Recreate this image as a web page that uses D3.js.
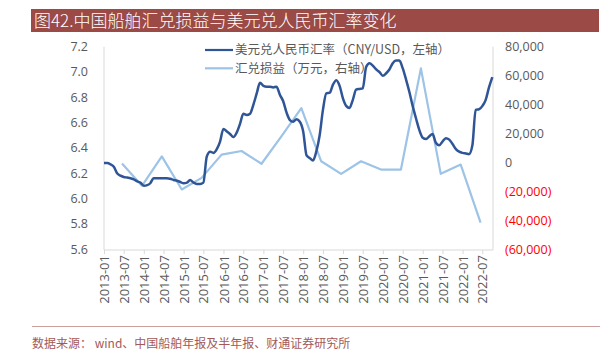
<!DOCTYPE html>
<html><head><meta charset="utf-8">
<script src="https://cdn.jsdelivr.net/npm/d3@7"></script>
<style>
body{margin:0;background:#fff;}
svg{display:block;}
text{font-family:"Open Sans","Noto Sans CJK SC",sans-serif;}
</style></head>
<body>
<svg id="chart" width="609" height="357"></svg>
<script>
// ---- data ----
const titleText = "图42.中国船舶汇兑损益与美元兑人民币汇率变化";
const sourceText = "数据来源：  wind、中国船舶年报及半年报、财通证券研究所";
const legendRate = "美元兑人民币汇率（CNY/USD，左轴）";
const legendGain = "汇兑损益（万元，右轴）";

const rateStart = "2013-01";
// monthly USD/CNY, 2013-01 .. 2022-10
const rateValues = [
  6.28,6.28,6.27,6.25,6.20,6.18,6.17,6.165,6.16,6.15,6.135,6.125,
  6.10,6.105,6.12,6.16,6.16,6.16,6.16,6.16,6.155,6.146,6.14,6.13,
  6.12,6.125,6.145,6.125,6.115,6.115,6.125,6.33,6.37,6.36,6.39,6.45,
  6.55,6.53,6.51,6.485,6.52,6.59,6.67,6.66,6.67,6.74,6.83,6.915,
  6.89,6.884,6.884,6.878,6.884,6.82,6.77,6.68,6.62,6.607,6.626,6.607,
  6.53,6.34,6.32,6.30,6.37,6.50,6.70,6.83,6.836,6.90,6.935,6.89,
  6.79,6.73,6.715,6.78,6.86,6.866,6.87,7.04,7.07,7.05,7.02,7.00,
  6.97,6.99,7.02,7.07,7.09,7.09,7.03,6.94,6.84,6.73,6.63,6.54,
  6.48,6.47,6.49,6.51,6.44,6.42,6.45,6.476,6.465,6.43,6.39,6.37,
  6.36,6.355,6.35,6.42,6.70,6.705,6.73,6.78,6.88,6.96
];

const gainDates = ["2013-06-15","2013-12-15","2014-06-15","2014-12-15","2015-06-15","2015-12-15",
  "2016-06-15","2016-12-15","2017-06-15","2017-12-15","2018-06-15","2018-12-15",
  "2019-06-15","2019-12-15","2020-06-15","2020-12-15","2021-06-15","2021-12-15","2022-06-15"];
const gainValues = [-900,-16300,4100,-18800,-10800,5300,7800,-1000,18000,37500,
  700,-8000,700,-5000,-5000,65000,-8000,-1600,-41800];

const xTickLabels = ["2013-01","2013-07","2014-01","2014-07","2015-01","2015-07","2016-01","2016-07",
  "2017-01","2017-07","2018-01","2018-07","2019-01","2019-07","2020-01","2020-07","2021-01","2021-07",
  "2022-01","2022-07"];
const leftTicks = [5.6,5.8,6.0,6.2,6.4,6.6,6.8,7.0,7.2];
const rightTicks = [-60000,-40000,-20000,0,20000,40000,60000,80000];

// ---- drawing ----
const svg = d3.select("#chart");
const pm = d3.timeParse("%Y-%m"), pd = d3.timeParse("%Y-%m-%d");
const rateDates = d3.timeMonth.range(pm(rateStart), d3.timeMonth.offset(pm(rateStart), rateValues.length));
const rateData = rateValues.map((v,i)=>({d:rateDates[i], v}));
const gainData = gainValues.map((v,i)=>({d:pd(gainDates[i]), v}));

const L=104, R=493, T=46.7, B=249;
const x = d3.scaleTime().domain([pm("2013-01"), pd("2022-10-07")]).range([L,R]);
const yL = d3.scaleLinear().domain([5.6,7.2]).range([B,T]);
const yR = d3.scaleLinear().domain([-60000,80000]).range([B,T]);

// title bar
svg.append("rect").attr("x",31).attr("y",9).attr("width",568).attr("height",23).attr("fill","#9B4A46");
svg.append("text").attr("x",34).attr("y",26.5).attr("fill","#fff").attr("font-size",17)
  .style("font-family","'Noto Sans CJK SC',sans-serif").style("font-weight",300).text(titleText);

// axes lines
const axisCol="#D9D9D9";
svg.append("line").attr("x1",L).attr("x2",L).attr("y1",T).attr("y2",B+1).attr("stroke",axisCol);
svg.append("line").attr("x1",R).attr("x2",R).attr("y1",T).attr("y2",B+1).attr("stroke",axisCol);

const xAxis = d3.axisBottom(x).tickValues(xTickLabels.map(pm)).tickFormat(d3.timeFormat("%Y-%m")).tickSizeOuter(0).tickSize(4);
const gx = svg.append("g").attr("transform",`translate(0,${B+1})`).call(xAxis);
gx.select(".domain").attr("stroke",axisCol).attr("d",`M${L},0H${R}`);
gx.selectAll(".tick line").attr("stroke",axisCol);
gx.selectAll(".tick text").attr("fill","#595959").attr("font-size",13)
  .attr("transform","rotate(-90)").attr("text-anchor","end").attr("x",-5).attr("y",0).attr("dy","0.35em");

const gl = svg.append("g").attr("transform",`translate(${L},0)`)
  .call(d3.axisLeft(yL).tickValues(leftTicks).tickFormat(d3.format(".1f")).tickSize(0).tickPadding(16));
gl.select(".domain").remove();
gl.selectAll("text").attr("fill","#595959").attr("font-size",12.5);

const gr = svg.append("g").attr("transform",`translate(${R},0)`)
  .call(d3.axisRight(yR).tickValues(rightTicks).tickSize(0).tickPadding(12)
    .tickFormat(v=> v<0 ? "("+d3.format(",")(-v)+")" : d3.format(",")(v)));
gr.select(".domain").remove();
gr.selectAll("text").attr("font-size",12.5).attr("fill",v=> v<0 ? "#FF0000" : "#595959");

// lines
svg.append("path").datum(gainData).attr("fill","none").attr("stroke","#9DC3E6").attr("stroke-width",2.2)
  .attr("stroke-linejoin","round")
  .attr("d",d3.line().x(d=>x(d.d)).y(d=>yR(d.v)));
svg.append("path").datum(rateData).attr("fill","none").attr("stroke","#2F5597").attr("stroke-width",2.5)
  .attr("stroke-linejoin","round")
  .attr("d",d3.line().curve(d3.curveMonotoneX).x(d=>x(d.d)).y(d=>yL(d.v)));

// legend
const lg = svg.append("g");
[[legendRate,"#2F5597",50],[legendGain,"#9DC3E6",68.3]].forEach(([t,c,yy])=>{
  lg.append("line").attr("x1",205).attr("x2",233).attr("y1",yy).attr("y2",yy).attr("stroke",c).attr("stroke-width",2.2);
  lg.append("text").attr("x",235).attr("y",yy).attr("dy","0.35em").attr("font-size",12.5).attr("fill","#595959")
    .style("font-family","'Noto Sans CJK SC',sans-serif").text(t);
});

// source
svg.append("line").attr("x1",32).attr("x2",600).attr("y1",326.5).attr("y2",326.5).attr("stroke","#C9A09E").attr("stroke-width",1);
svg.append("text").attr("x",32).attr("y",348).attr("font-size",12).attr("fill","#A35A57")
  .style("font-family","'Noto Sans CJK SC',sans-serif").text(sourceText);
</script>
</body></html>
